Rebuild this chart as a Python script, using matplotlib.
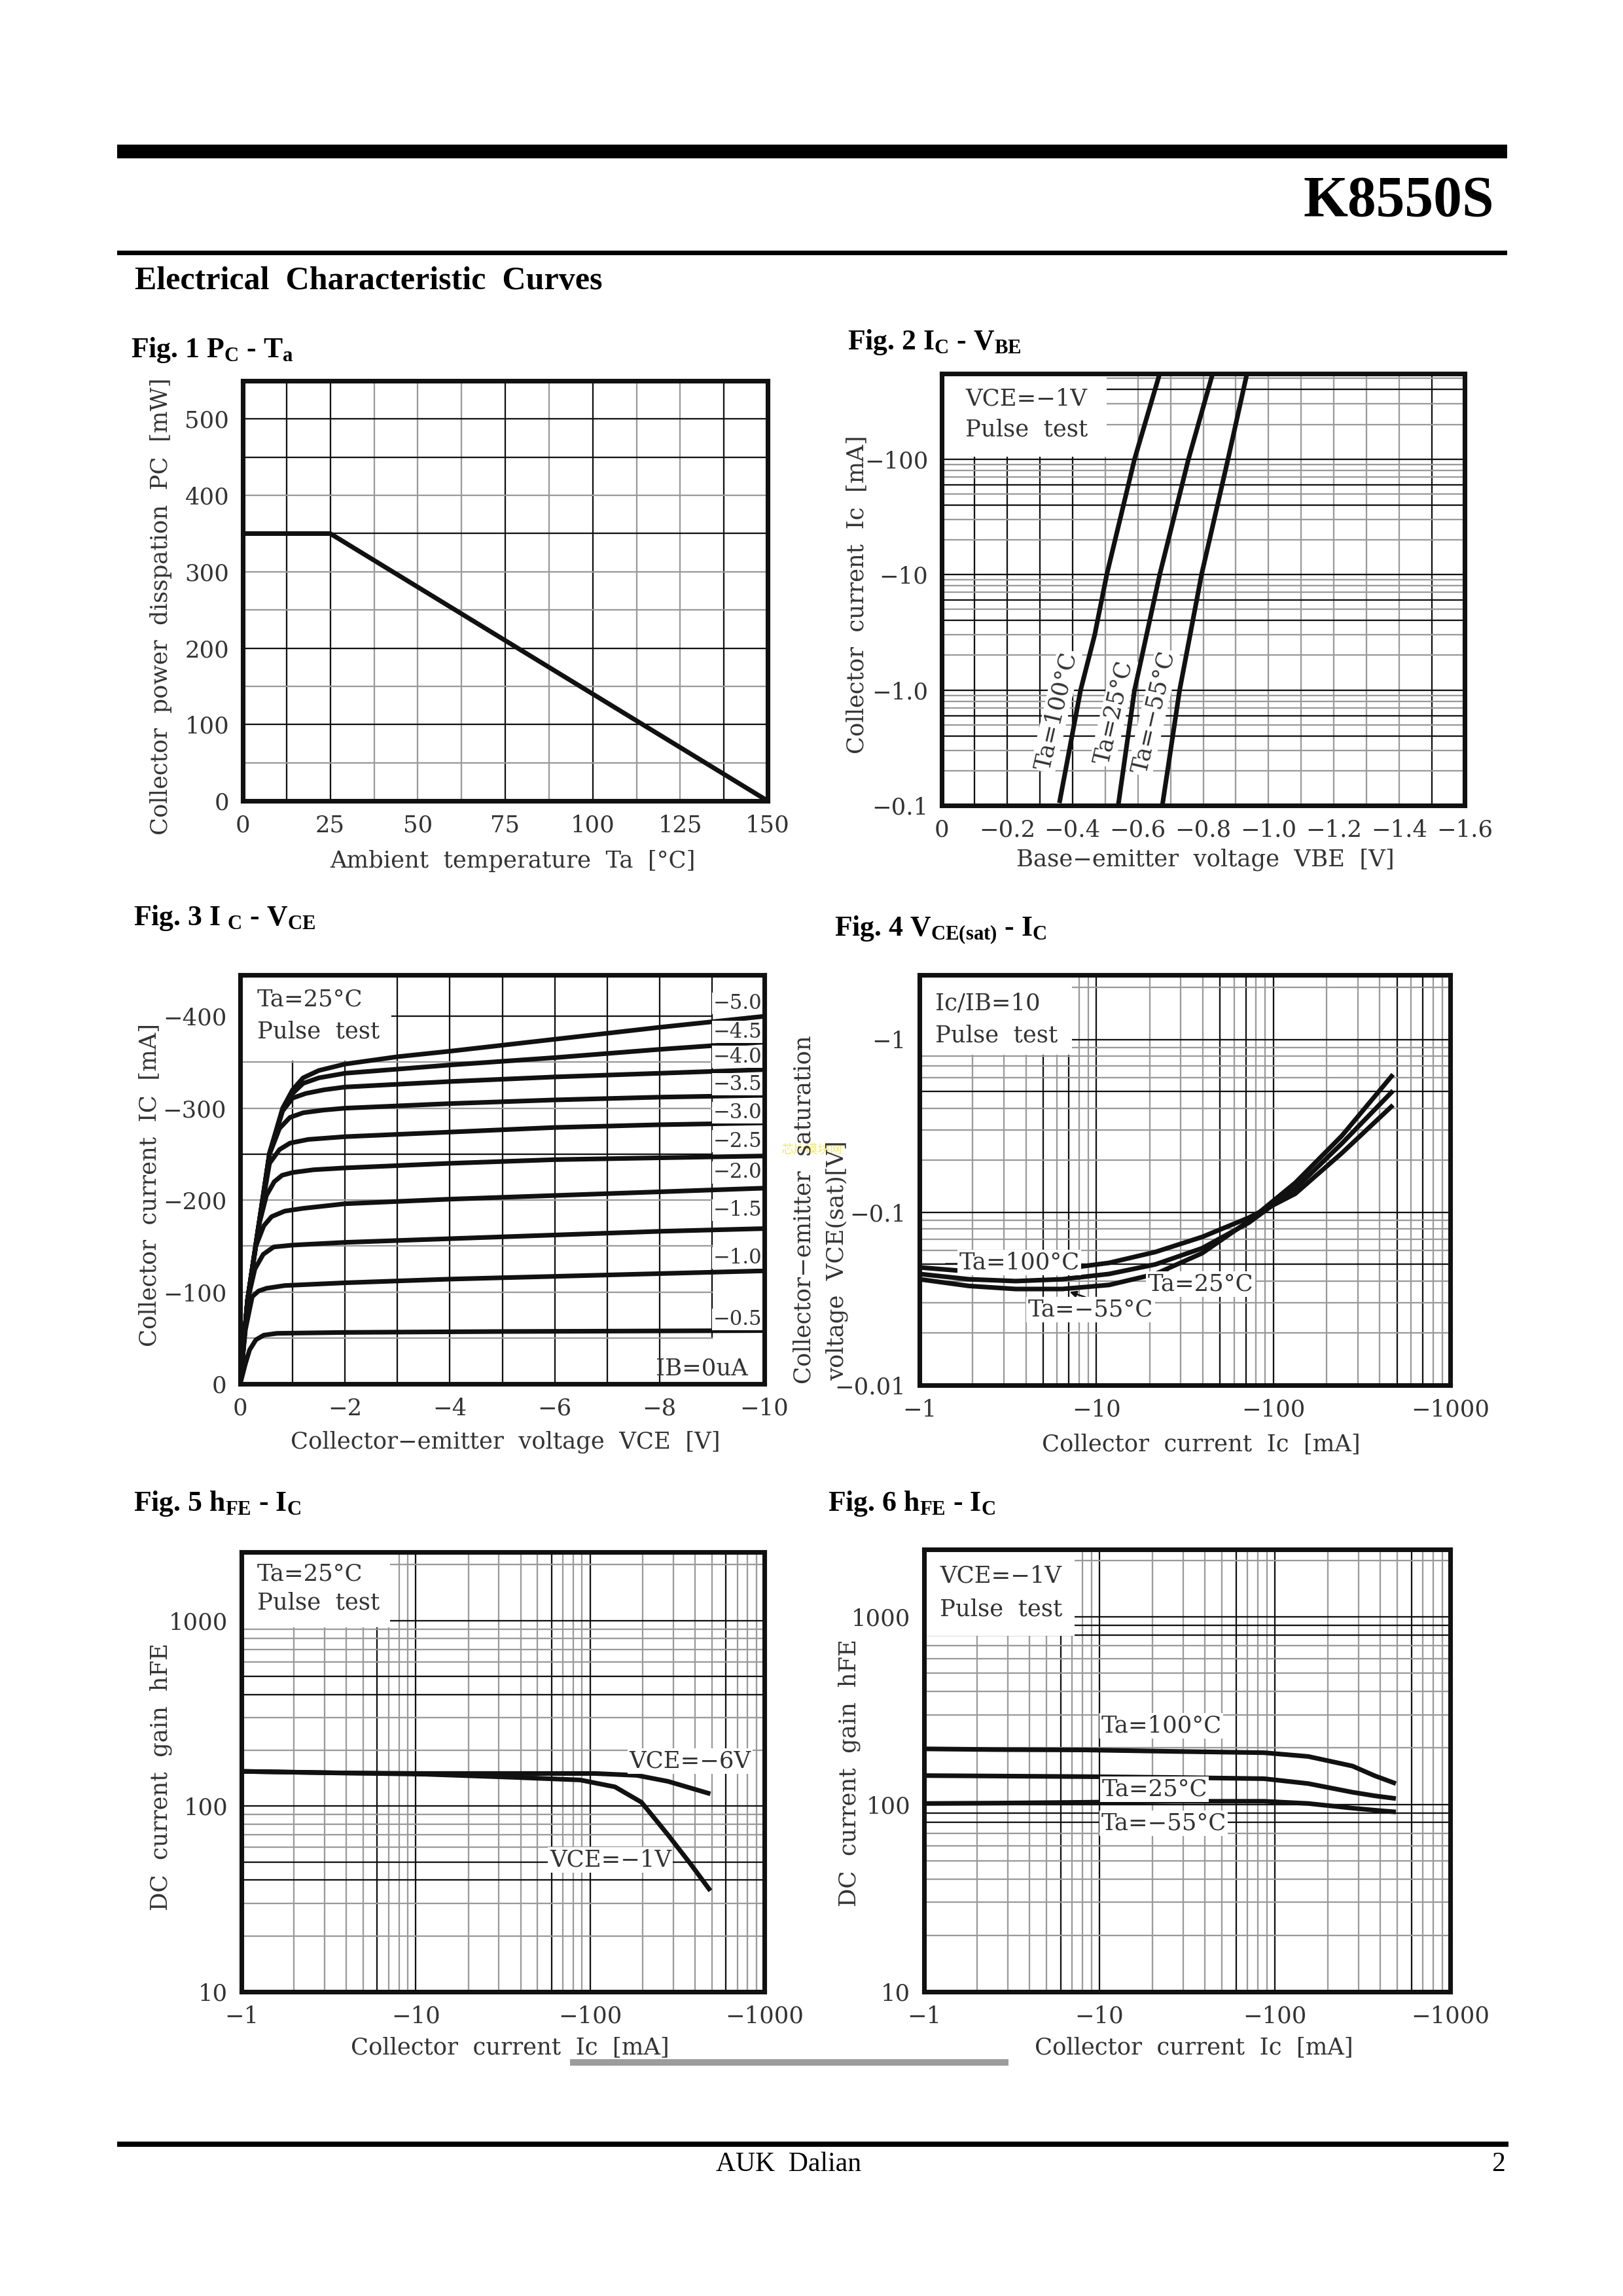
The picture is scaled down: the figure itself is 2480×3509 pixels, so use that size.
import matplotlib
matplotlib.use("Agg")
import matplotlib.pyplot as plt
from matplotlib.patches import Rectangle

plt.rcParams["font.family"] = ["DejaVu Serif"]
plt.rcParams["mathtext.fontset"] = "custom"
plt.rcParams["mathtext.rm"] = "Liberation Serif:bold"
plt.rcParams["mathtext.it"] = "Liberation Serif:bold"
plt.rcParams["mathtext.bf"] = "Liberation Serif:bold"

M = "\u2212"

# ---- Fig 1  Pc - Ta
ta_deg = [0, 25, 150]
pc_mw = [350, 350, 0]

# ---- Fig 2  Ic - Vbe  (magnitudes: V, mA)
vbe_100 = [0.36, 0.425, 0.468, 0.505, 0.59, 0.667]
ic_100 = [0.105, 1.0, 3.0, 10, 100, 550]
vbe_25 = [0.54, 0.59, 0.667, 0.755, 0.829]
ic_25 = [0.1, 1.0, 10, 100, 550]
vbe_m55 = [0.675, 0.728, 0.795, 0.876, 0.934]
ic_m55 = [0.1, 1.0, 10, 100, 550]

# ---- Fig 3  Ic - Vce, one curve per base current (magnitudes: V, mA)
ib_labels = ["0.5", "1.0", "1.5", "2.0", "2.5", "3.0", "3.5", "4.0", "4.5", "5.0"]
ib_label_y = [70, 137, 189, 230, 264, 295, 326, 356, 383, 414]
vce_05 = [0, 0.1, 0.18, 0.3, 0.45, 0.7, 2, 5, 10]
ic_05 = [0, 22, 37, 48, 53, 55, 56, 57, 58]
vce_10 = [0, 0.1, 0.23, 0.35, 0.5, 0.85, 2, 4, 6, 8, 10]
ic_10 = [0, 59, 95, 101, 104, 107, 110, 114, 117, 120, 123]
vce_15 = [0, 0.14, 0.28, 0.44, 0.64, 1.0, 2, 4, 6, 8, 10]
ic_15 = [0, 90, 125, 141, 149, 151, 154, 158, 162, 166, 169]
vce_20 = [0, 0.14, 0.3, 0.45, 0.6, 0.85, 1.2, 2, 4, 6, 8, 10]
ic_20 = [0, 91, 150, 172, 182, 188, 191, 196, 201, 205, 209, 213]
vce_25 = [0, 0.14, 0.35, 0.5, 0.65, 0.8, 1.0, 1.4, 2, 4, 6, 8, 10]
ic_25b = [0, 91, 171, 205, 220, 227, 230, 233, 235, 240, 244, 246, 248]
vce_30 = [0, 0.14, 0.35, 0.56, 0.75, 0.95, 1.3, 2, 4, 6, 8, 10]
ic_30 = [0, 91, 171, 240, 255, 262, 266, 269, 274, 279, 282, 284]
vce_35 = [0, 0.14, 0.35, 0.56, 0.75, 0.95, 1.2, 1.6, 2, 4, 6, 8, 10]
ic_35 = [0, 91, 171, 250, 278, 290, 295, 298, 300, 305, 309, 312, 314]
vce_40 = [0, 0.14, 0.35, 0.56, 0.81, 1.0, 1.25, 1.6, 2, 4, 6, 8, 10]
ic_40 = [0, 91, 171, 251, 297, 311, 316, 320, 323, 329, 334, 338, 342]
vce_45 = [0, 0.14, 0.35, 0.56, 0.81, 1.0, 1.2, 1.5, 2, 4, 6, 8, 10]
ic_45 = [0, 91, 171, 251, 299, 316, 327, 333, 338, 347, 355, 364, 372]
vce_50 = [0, 0.14, 0.35, 0.56, 0.81, 1.0, 1.2, 1.5, 2, 3, 4, 6, 8, 10]
ic_50 = [0, 91, 171, 251, 300, 320, 333, 341, 348, 356, 362, 375, 388, 400]

# ---- Fig 4  Vce(sat) - Ic  (magnitudes: mA, V)
ic_sat = [1.0, 1.9, 3.5, 6.4, 11.8, 21.6, 39.6, 72.6, 133, 244, 475]
vsat_100 = [0.048, 0.0455, 0.046, 0.047, 0.051, 0.059, 0.072, 0.093, 0.128, 0.22, 0.417]
vsat_25 = [0.044, 0.041, 0.040, 0.041, 0.044, 0.050, 0.062, 0.087, 0.137, 0.25, 0.505]
vsat_m55 = [0.041, 0.0375, 0.036, 0.036, 0.038, 0.044, 0.058, 0.089, 0.148, 0.277, 0.627]

# ---- Fig 5  hFE - Ic, Ta = 25 C
ic_v6 = [1, 3.54, 11.4, 36.5, 106, 186, 280, 490]
hfe_v6 = [154, 151, 150, 150, 150, 146.5, 136, 116.5]
ic_v1 = [1, 11.4, 36.5, 87.6, 139, 197, 280, 376, 490]
hfe_v1 = [154, 148.6, 143, 138.4, 127, 105, 70, 49, 35]

# ---- Fig 6  hFE - Ic, Vce = -1 V
ic_t = [1.0, 2.6, 8.3, 26.8, 86.7, 155, 277, 371, 490]
hfe_t100 = [197.6, 195.8, 195, 191.5, 188.5, 180, 160, 142, 129]
hfe_t25 = [142.3, 141.5, 140.5, 139, 137, 129, 116, 111, 107.3]
hfe_tm55 = [101, 101.5, 102.5, 103.8, 103.8, 101, 95.4, 93, 91]

W, H = 2480, 3509
INK = "#111111"
GREY = "#9a9a9a"
TXT = "#333333"
LAB = 8.5

fig = plt.figure(figsize=(W / 300, H / 300), dpi=300)


def put(x, y, s, **kw):
    fig.text(x / W, 1 - y / H, s, **kw)


def bar(x0, x1, y0, y1, color="black"):
    fig.add_artist(Rectangle((x0 / W, 1 - y1 / H), (x1 - x0) / W, (y1 - y0) / H,
                             transform=fig.transFigure, facecolor=color,
                             edgecolor="none"))


def panel(x0, y0, x1, y1):
    ax = fig.add_axes([x0 / W, 1 - y1 / H, (x1 - x0) / W, (y1 - y0) / H])
    for s in ax.spines.values():
        s.set_linewidth(1.7)
        s.set_color(INK)
        s.set_zorder(6)
    ax.tick_params(length=0, labelsize=LAB, labelcolor=TXT, pad=5)
    return ax


def gridx(ax, xs, cols, lo=0, hi=1):
    for x, c in zip(xs, cols):
        ax.axvline(x, lo, hi, color=INK if c == "k" else GREY, lw=0.55, zorder=1)


def gridy(ax, ys, cols, lo=0, hi=1):
    for y, c in zip(ys, cols):
        ax.axhline(y, lo, hi, color=INK if c == "k" else GREY, lw=0.55, zorder=1)


def decades(a, b, lo, hi, pattern):
    vals, cols = [], []
    for e in range(a, b):
        for k in range(1, 10):
            v = k * 10.0 ** e
            if lo * 1.001 < v < hi * 0.999:
                vals.append(v)
                cols.append(pattern[k - 1])
    return vals, cols


def blank(ax, x0, y0, x1, y1):
    ax.add_patch(Rectangle((x0, y0), x1 - x0, y1 - y0, facecolor="white",
                           edgecolor="none", zorder=2))


def boxtext(ax, lines, x, ys):
    for s, y in zip(lines, ys):
        ax.text(x, y, s, transform=ax.transAxes, fontsize=LAB, color=TXT,
                va="center", ha="left", zorder=4)


def curve(ax, x, y):
    ax.plot(x, y, color=INK, lw=1.7, zorder=3, solid_capstyle="butt")


def tag(ax, x, y, s, size=LAB, pad=0.6, **kw):
    ax.text(x, y, s, fontsize=size, color=TXT, zorder=4,
            bbox=dict(facecolor="white", edgecolor="none", pad=pad), **kw)


def neg(vals, fmt="{:g}"):
    return [("0" if v == 0 else M + fmt.format(v)) for v in vals]


# page furniture
bar(179, 2303, 221, 242)
bar(179, 2303, 383, 390)
bar(179, 2305, 3273, 3281)
put(2283, 330, "K8550S", fontsize=21, fontweight="bold",
    family="Liberation Serif", ha="right", va="baseline")
put(206, 442, "Electrical  Characteristic  Curves", fontsize=12,
    fontweight="bold", family="Liberation Serif", va="baseline")
put(1205, 3318, "AUK  Dalian", fontsize=10, family="Liberation Serif",
    ha="center", va="baseline")
put(2300, 3318, "2", fontsize=10, family="Liberation Serif", ha="right",
    va="baseline")
fig.add_artist(Rectangle((871 / W, 1 - 3157 / H), 670 / W, 10 / H,
                         transform=fig.transFigure, facecolor="#9c9c9c",
                         edgecolor="none"))
put(1240, 1757, "芯片模块网", fontsize=4.5, color="#f3ea6a",
    family=["Noto Sans CJK SC", "DejaVu Sans"], ha="center", va="center")

title_kw = dict(fontsize=10.5, fontweight="bold", family="Liberation Serif",
                va="baseline")
put(200, 546, r"Fig. 1 P$_\mathrm{C}$ - T$_\mathrm{a}$", **title_kw)
put(1295, 534, r"Fig. 2 I$_\mathrm{C}$ - V$_\mathrm{BE}$", **title_kw)
put(204, 1414, r"Fig. 3 I $_\mathrm{C}$ - V$_\mathrm{CE}$", **title_kw)
put(1275, 1430, r"Fig. 4 V$_\mathrm{CE(sat)}$ - I$_\mathrm{C}$", **title_kw)
put(204, 2309, r"Fig. 5 h$_\mathrm{FE}$ - I$_\mathrm{C}$", **title_kw)
put(1265, 2309, r"Fig. 6 h$_\mathrm{FE}$ - I$_\mathrm{C}$", **title_kw)

lab_kw = dict(fontsize=LAB, color=TXT, ha="center", va="center")

# ---------------- Fig 1
ax = panel(371, 582, 1173, 1224)
ax.set_xlim(0, 150)
ax.set_ylim(0, 550)
gridx(ax, [12.5 * i for i in range(1, 12)], "kkgggkgkggk")
gridy(ax, [50 * i for i in range(1, 11)], "gkgkggkgkk")
curve(ax, ta_deg, pc_mw)
ax.set_xticks([0, 25, 50, 75, 100, 125, 150])
ax.set_yticks([0, 100, 200, 300, 400, 500])
put(246, 927, "Collector  power  disspation  PC  [mW]", rotation=90, **lab_kw)
put(783, 1316, "Ambient  temperature  Ta  [°C]", **lab_kw)

# ---------------- Fig 2
ax = panel(1439, 571, 2238, 1231)
ax.set_yscale("log")
ax.set_xlim(0, 1.6)
ax.set_ylim(0.1, 550)
gridx(ax, [0.1 * i for i in range(1, 16)], "kkkkggggggggggk")
ys, cs = decades(-1, 3, 0.1, 550, "kggkgkggg")
gridy(ax, ys, cs)
blank(ax, 0, 105, 0.505, 550)
boxtext(ax, ["VCE=" + M + "1V", "Pulse  test"], 0.045, [0.941, 0.87])
curve(ax, vbe_100, ic_100)
curve(ax, vbe_25, ic_25)
curve(ax, vbe_m55, ic_m55)
tag(ax, 0.35, 0.66, "Ta=100°C", rotation=77, ha="center", va="center")
tag(ax, 0.526, 0.64, "Ta=25°C", rotation=77, ha="center", va="center")
tag(ax, 0.648, 0.64, "Ta=" + M + "55°C", rotation=77, ha="center", va="center")
ax.set_xticks([0.2 * i for i in range(9)])
ax.set_xticklabels(neg([0.2 * i for i in range(9)], "{:.1f}"))
ax.set_yticks([0.1, 1, 10, 100])
ax.set_yticklabels([M + "0.1", M + "1.0", M + "10", M + "100"])
ax.minorticks_off()
put(1309, 909, "Collector  current  Ic  [mA]", rotation=90, **lab_kw)
put(1842, 1314, "Base" + M + "emitter  voltage  VBE  [V]", **lab_kw)

# ---------------- Fig 3
ax = panel(367, 1490, 1168, 2115)
ax.set_xlim(0, 10)
ax.set_ylim(0, 445)
gridx(ax, range(1, 9), "kkkkkkkk")
gridx(ax, [9], "k", lo=50 / 445)
gridy(ax, [50, 100, 150, 200, 250, 300, 350, 400], "ggggkggk", hi=0.9)
blank(ax, 0, 352, 2.89, 445)
boxtext(ax, ["Ta=25°C", "Pulse  test"], 0.032, [0.94, 0.862])
for vx, iy in [(vce_05, ic_05), (vce_10, ic_10), (vce_15, ic_15),
               (vce_20, ic_20), (vce_25, ic_25b), (vce_30, ic_30),
               (vce_35, ic_35), (vce_40, ic_40), (vce_45, ic_45),
               (vce_50, ic_50)]:
    curve(ax, vx, iy)
for s, y in zip(ib_labels, ib_label_y):
    tag(ax, 9.02, y, M + s, size=7.4, pad=0.3, ha="left", va="center")
ax.text(8.8, 17, "IB=0uA", fontsize=LAB, color=TXT, ha="center", va="center",
        zorder=4)
ax.set_xticks([0, 2, 4, 6, 8, 10])
ax.set_xticklabels(neg([0, 2, 4, 6, 8, 10]))
ax.set_yticks([0, 100, 200, 300, 400])
ax.set_yticklabels(neg([0, 100, 200, 300, 400]))
put(228, 1811, "Collector  current  IC  [mA]", rotation=90, **lab_kw)
put(772, 2204, "Collector" + M + "emitter  voltage  VCE  [V]", **lab_kw)

# ---------------- Fig 4
ax = panel(1405, 1490, 2216, 2117)
ax.set_xscale("log")
ax.set_yscale("log")
ax.set_xlim(1, 1000)
ax.set_ylim(0.01, 2.36)
xs, cs = decades(0, 3, 1, 1000, "kgggkgkgg")
gridx(ax, xs, cs)
ys, cs = decades(-2, 1, 0.01, 2.36, "kgggkgggg")
gridy(ax, ys, cs)
blank(ax, 1, 0.817, 7.25, 2.36)
boxtext(ax, ["Ic/IB=10", "Pulse  test"], 0.03, [0.93, 0.853])
curve(ax, ic_sat, vsat_100)
curve(ax, ic_sat, vsat_25)
curve(ax, ic_sat, vsat_m55)
ax.plot([1.41, 1.86], [0.0505, 0.0505], color=INK, lw=0.6, zorder=3)
tag(ax, 3.66, 0.0512, "Ta=100°C", ha="center", va="center")
ax.annotate("", xy=(21.5, 0.0474), xytext=(33, 0.042),
            arrowprops=dict(arrowstyle="-|>", color=INK, lw=0.6,
                            mutation_scale=5), zorder=4)
tag(ax, 19.5, 0.0384, "Ta=25°C", ha="left", va="center")
ax.annotate("", xy=(6.6, 0.0355), xytext=(9.3, 0.0315),
            arrowprops=dict(arrowstyle="-|>", color=INK, lw=0.6,
                            mutation_scale=5), zorder=4)
tag(ax, 4.1, 0.0274, "Ta=" + M + "55°C", ha="left", va="center")
ax.set_xticks([1, 10, 100, 1000])
ax.set_xticklabels([M + "1", M + "10", M + "100", M + "1000"])
ax.set_yticks([0.01, 0.1, 1])
ax.set_yticklabels([M + "0.01", M + "0.1", M + "1"])
ax.minorticks_off()
put(1228, 1849, "Collector" + M + "emitter  saturation", rotation=90, **lab_kw)
put(1279, 1927, "voltage  VCE(sat)[V]", rotation=90, **lab_kw)
put(1835, 2207, "Collector  current  Ic  [mA]", **lab_kw)

# ---------------- Fig 5
ax = panel(369, 2372, 1168, 3044)
ax.set_xscale("log")
ax.set_yscale("log")
ax.set_xlim(1, 1000)
ax.set_ylim(10, 2340)
xs, cs = decades(0, 3, 1, 1000, "kggggkggg")
gridx(ax, xs, cs)
ys, cs = decades(1, 4, 10, 2340, "kggkkgggg")
gridy(ax, ys, cs)
blank(ax, 1, 920, 7.1, 2340)
boxtext(ax, ["Ta=25°C", "Pulse  test"], 0.03, [0.95, 0.884])
curve(ax, ic_v6, hfe_v6)
curve(ax, ic_v1, hfe_v1)
tag(ax, 376, 175, "VCE=" + M + "6V", ha="center", va="center")
tag(ax, 131, 51.3, "VCE=" + M + "1V", ha="center", va="center")
ax.set_xticks([1, 10, 100, 1000])
ax.set_xticklabels([M + "1", M + "10", M + "100", M + "1000"])
ax.set_yticks([10, 100, 1000])
ax.set_yticklabels(["10", "100", "1000"])
ax.minorticks_off()
put(246, 2715, "DC  current  gain  hFE", rotation=90, **lab_kw)
put(779, 3129, "Collector  current  Ic  [mA]", **lab_kw)

# ---------------- Fig 6
ax = panel(1412, 2368, 2216, 3044)
ax.set_xscale("log")
ax.set_yscale("log")
ax.set_xlim(1, 1000)
ax.set_ylim(10, 2290)
xs, cs = decades(0, 3, 1, 1000, "kggggkggg")
gridx(ax, xs, cs)
ys, cs = decades(1, 4, 10, 2290, "kggggggkk")
gridy(ax, ys, cs)
blank(ax, 1, 790, 7.2, 2290)
boxtext(ax, ["VCE=" + M + "1V", "Pulse  test"], 0.03, [0.94, 0.865])
curve(ax, ic_t, hfe_t100)
curve(ax, ic_t, hfe_t25)
curve(ax, ic_t, hfe_tm55)
tag(ax, 22.5, 262, "Ta=100°C", ha="center", va="center")
tag(ax, 20.6, 120.7, "Ta=25°C", ha="center", va="center")
tag(ax, 23.2, 79, "Ta=" + M + "55°C", ha="center", va="center")
ax.set_xticks([1, 10, 100, 1000])
ax.set_xticklabels([M + "1", M + "10", M + "100", M + "1000"])
ax.set_yticks([10, 100, 1000])
ax.set_yticklabels(["10", "100", "1000"])
ax.minorticks_off()
put(1298, 2710, "DC  current  gain  hFE", rotation=90, **lab_kw)
put(1824, 3129, "Collector  current  Ic  [mA]", **lab_kw)

fig.savefig("out.png", dpi=300, facecolor="white")
